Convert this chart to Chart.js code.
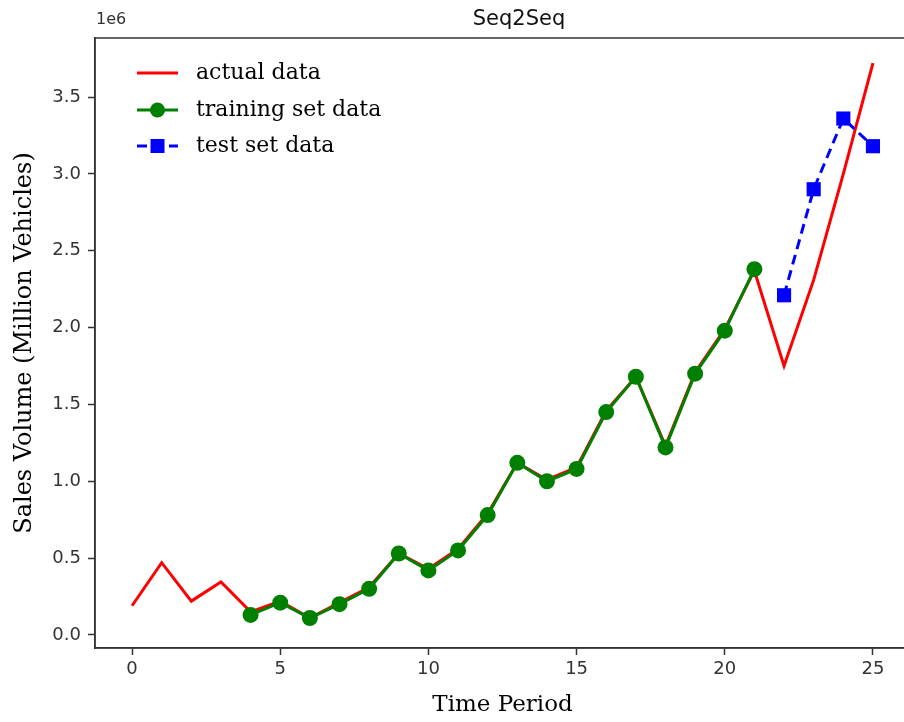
<!DOCTYPE html>
<html>
<head>
<meta charset="utf-8">
<script src="https://cdn.jsdelivr.net/npm/chart.js@4.4.0/dist/chart.umd.min.js"></script>
<style>
  html, body { margin: 0; padding: 0; background: #fff; overflow: hidden; }
  #wrap { width: 920px; height: 722px; }
</style>
</head>
<body>
<div id="wrap"><canvas id="c" width="920" height="722"></canvas></div>
<script>
// ---- data (values in millions; axis shows 1e6) ----
const actualX = [0,1,2,3,4,5,6,7,8,9,10,11,12,13,14,15,16,17,18,19,20,21,22,23,24,25];
const actualY = [0.19,0.47,0.22,0.345,0.15,0.22,0.11,0.21,0.31,0.53,0.43,0.56,0.79,1.12,1.01,1.09,1.46,1.68,1.23,1.71,1.99,2.37,1.75,2.31,3.00,3.72];
const trainX = [4,5,6,7,8,9,10,11,12,13,14,15,16,17,18,19,20,21];
const trainY = [0.13,0.21,0.11,0.20,0.30,0.53,0.42,0.55,0.78,1.12,1.00,1.08,1.45,1.68,1.22,1.70,1.98,2.38];
const testX = [22,23,24,25];
const testY = [2.21,2.90,3.36,3.18];
const xTicks = [0,5,10,15,20,25];
const yTicks = [0.0,0.5,1.0,1.5,2.0,2.5,3.0,3.5];
const seriesNames = ['actual data','training set data','test set data'];
const chartTitle = 'Seq2Seq';
const xTitle = 'Time Period';
const yTitle = 'Sales Volume (Million Vehicles)';
const offsetText = '1e6';

const pts = (xs, ys) => xs.map((x, i) => ({x: x, y: ys[i]}));

const decorPlugin = {
  id: 'decor',
  beforeDraw(chart) {
    const ctx = chart.ctx;
    ctx.save();
    ctx.fillStyle = '#fff';
    ctx.fillRect(0, 0, chart.width, chart.height);
    ctx.restore();
  },
  afterDraw(chart) {
    const ctx = chart.ctx;
    const a = chart.chartArea;
    ctx.save();
    // frame
    ctx.strokeStyle = '#333';
    ctx.lineWidth = 1.5;
    ctx.strokeRect(a.left, a.top, a.right - a.left, a.bottom - a.top);
    // title and offset text
    ctx.fillStyle = '#111';
    ctx.textBaseline = 'middle';
    ctx.textAlign = 'center';
    ctx.font = '21px "DejaVu Sans"';
    ctx.fillText(chartTitle, 519, 20);
    ctx.textAlign = 'left';
    ctx.font = '16px "DejaVu Sans"';
    ctx.fillStyle = '#333';
    ctx.fillText(offsetText, 96, 20);
    // legend
    const ds = chart.data.datasets;
    const rows = [73, 110, 146];
    for (let i = 0; i < ds.length; i++) {
      const d = ds[i];
      const y = rows[i];
      ctx.strokeStyle = d.borderColor;
      ctx.lineWidth = d.borderWidth;
      ctx.setLineDash(d.borderDash || []);
      ctx.beginPath();
      ctx.moveTo(137, y);
      ctx.lineTo(178, y);
      ctx.stroke();
      ctx.setLineDash([]);
      if (d.pointRadius > 0) {
        ctx.fillStyle = d.pointBackgroundColor;
        if (d.pointStyle === 'rect') {
          const s = 7;
          ctx.fillRect(157.5 - s, y - s, 2 * s, 2 * s);
        } else {
          ctx.beginPath();
          ctx.arc(157.5, y, 7.5, 0, Math.PI * 2);
          ctx.fill();
        }
      }
      ctx.fillStyle = '#000';
      ctx.textAlign = 'left';
      ctx.font = '22px "DejaVu Serif"';
      ctx.fillText(d.label, 196, y);
    }
    ctx.restore();
  }
};

new Chart(document.getElementById('c'), {
  type: 'line',
  data: {
    datasets: [
      { label: seriesNames[0], data: pts(actualX, actualY), borderColor: '#ff0000', backgroundColor: '#ff0000',
        borderWidth: 3, pointRadius: 0, order: 3, tension: 0 },
      { label: seriesNames[1], data: pts(trainX, trainY), borderColor: '#008000', backgroundColor: '#008000',
        pointBackgroundColor: '#008000', pointBorderColor: '#008000', pointBorderWidth: 0,
        borderWidth: 3, pointRadius: 8, pointStyle: 'circle', order: 2, tension: 0 },
      { label: seriesNames[2], data: pts(testX, testY), borderColor: '#0000ff', backgroundColor: '#0000ff',
        pointBackgroundColor: '#0000ff', pointBorderColor: '#0000ff', pointBorderWidth: 0,
        borderWidth: 3, borderDash: [10, 6], pointRadius: 10, pointStyle: 'rect', order: 1, tension: 0 }
    ]
  },
  options: {
    responsive: false,
    animation: false,
    devicePixelRatio: 1,
    layout: { padding: { top: 38, right: 8, left: 0, bottom: 0 } },
    plugins: { legend: { display: false }, title: { display: false }, tooltip: { enabled: false } },
    scales: {
      x: {
        type: 'linear', min: -1.25, max: 26.25,
        afterBuildTicks: (s) => { s.ticks = xTicks.map(v => ({ value: v })); },
        afterFit: (s) => { s.height = 74; },
        grid: { display: true, drawOnChartArea: false, drawTicks: true, tickLength: 7, tickColor: '#333', tickWidth: 1.5 },
        border: { display: true, color: '#333', width: 1.5 },
        ticks: { color: '#333', font: { family: 'DejaVu Sans', size: 18 }, padding: 4, maxRotation: 0,
                 callback: (v) => String(v) },
        title: { display: true, text: xTitle, color: '#000', font: { family: 'DejaVu Serif', size: 23 },
                 padding: { top: 0, bottom: 3 } }
      },
      y: {
        type: 'linear', min: -0.085, max: 3.884,
        afterBuildTicks: (s) => { s.ticks = yTicks.map(v => ({ value: v })); },
        afterFit: (s) => { s.width = 95; },
        grid: { display: true, drawOnChartArea: false, drawTicks: true, tickLength: 7, tickColor: '#333', tickWidth: 1.5 },
        border: { display: true, color: '#333', width: 1.5 },
        ticks: { color: '#333', font: { family: 'DejaVu Sans', size: 18 }, padding: 7,
                 callback: (v) => Number(v).toFixed(1) },
        title: { display: true, text: yTitle, color: '#000', font: { family: 'DejaVu Serif', size: 24 },
                 padding: { top: 10, bottom: 0 } }
      }
    }
  },
  plugins: [decorPlugin]
});
</script>
</body>
</html>
